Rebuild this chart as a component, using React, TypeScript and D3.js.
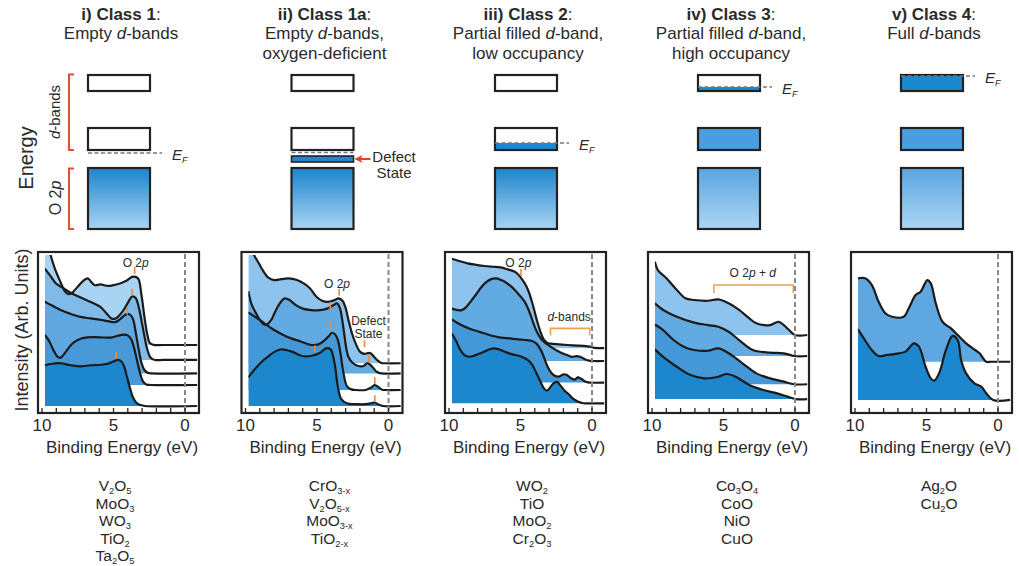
import React from "react";
import * as d3 from "d3";

type Pt = [number, number];

// ---------------- axis ticks ----------------
const xTickLabels = [10, 5, 0];
const xMinorTicks = [10, 9, 8, 7, 6, 5, 4, 3, 2, 1, 0];

// ---------------- texts ----------------
const classTitles = ["i) Class 1", "ii) Class 1a", "iii) Class 2", "iv) Class 3", "v) Class 4"];
const classSubtitles = [
  ["Empty |d|-bands"],
  ["Empty |d|-bands,", "oxygen-deficient"],
  ["Partial filled |d|-band,", "low occupancy"],
  ["Partial filled |d|-band,", "high occupancy"],
  ["Full |d|-bands"],
];
const materials = [
  ["V2O5", "MoO3", "WO3", "TiO2", "Ta2O5"],
  ["CrO3-x", "V2O5-x", "MoO3-x", "TiO2-x"],
  ["WO2", "TiO", "MoO2", "Cr2O3"],
  ["Co3O4", "CoO", "NiO", "CuO"],
  ["Ag2O", "Cu2O"],
];

// ---------------- spectra: [binding energy (eV), intensity (arb.)] ----------------
// Class 1
const c1s1: Pt[] = [[9.8,115],[9.4,100],[9.1,91],[8.75,83],[8.4,76],[8.15,74],[7.9,75],[7.5,79],[7.1,83],[6.8,84.5],[6.5,81.5],[6.3,80],[5.9,80.5],[5.4,79.5],[5.0,80],[4.6,81],[4.1,83],[3.7,85.5],[3.45,85.5],[3.25,84],[3.05,74],[2.85,60],[2.65,48],[2.45,41.5],[2.2,40.5],[1.5,40.4],[-0.85,40.4]];
const c1s2: Pt[] = [[9.8,91],[9.4,86],[9.0,81],[8.5,78],[8.0,75],[7.1,71],[6.5,68.5],[5.9,65.5],[5.5,61.5],[5.15,58],[4.85,58],[4.5,61],[4.2,65],[3.9,70],[3.7,72.5],[3.45,71.5],[3.25,66],[3.05,57],[2.85,47],[2.65,38],[2.4,32],[2.1,30.5],[1.5,30.5],[-0.85,30.5]];
const c1s3: Pt[] = [[9.8,69],[9.3,66.5],[8.7,63.5],[8.0,61],[7.3,59],[6.6,58],[5.9,57],[5.3,56],[4.9,55.5],[4.6,57],[4.3,59.5],[4.05,61],[3.85,60.5],[3.65,58],[3.45,49],[3.25,38],[3.05,29],[2.85,24],[2.6,22],[2.3,21.6],[-0.85,21.6]];
const c1s4: Pt[] = [[9.8,47],[9.5,43],[9.2,37],[8.9,32.5],[8.7,32],[8.4,35],[8.1,39],[7.8,42],[7.3,44.5],[6.8,45.5],[6.0,45.5],[5.2,45.3],[4.7,46.5],[4.3,47.3],[4.0,46.8],[3.75,44],[3.55,38],[3.35,30],[3.15,22],[2.95,16.5],[2.7,14.2],[2.4,13.9],[-0.85,13.9]];
const c1s5: Pt[] = [[9.8,27],[9.3,28],[8.7,28.3],[8.0,27],[7.3,26.3],[6.6,27],[5.9,27.3],[5.4,28],[5.0,29.5],[4.7,30.5],[4.45,29.5],[4.25,26],[4.05,19],[3.85,12],[3.65,6],[3.4,2.2],[3.1,0.6],[2.8,0],[-0.85,0]];
const c1Markers: Pt[] = [[3.52,86.8],[3.7,72.4],[4.05,60],[4.56,47],[4.81,30.5]];

// Class 1a
const c2s1: Pt[] = [[9.8,112],[9.4,100],[9.1,95],[8.8,90],[8.4,85],[8.0,83.4],[7.5,84],[7.0,84.5],[6.4,83.4],[5.9,81],[5.5,78],[5.0,72],[4.6,69.5],[4.2,69],[3.8,70],[3.5,71.3],[3.2,69.5],[3.0,65],[2.8,57],[2.55,48],[2.3,41.5],[2.0,36],[1.7,34.5],[1.45,35],[1.25,35],[1.0,32.5],[0.75,30],[0.5,28.5],[0.2,28.3],[-0.85,28.3]];
const c2s2: Pt[] = [[9.8,76],[9.6,68],[9.3,62],[9.0,57],[8.7,54],[8.5,54],[8.2,57],[7.95,62],[7.6,68],[7.25,71.3],[6.9,70],[6.5,67],[6.0,64.5],[5.4,63.5],[4.8,63.5],[4.3,64.5],[3.9,66.5],[3.6,68],[3.4,65],[3.25,58],[3.1,48],[2.95,38],[2.8,32.5],[2.5,28.5],[2.1,26.5],[1.75,26.5],[1.5,28.3],[1.3,27.5],[1.05,25],[0.8,22.5],[0.5,21.6],[-0.85,21.6]];
const c2s3: Pt[] = [[9.8,62],[9.4,59.5],[9.0,57],[8.5,53.5],[8.0,50.3],[7.1,45.9],[6.1,42.6],[5.4,40.4],[4.9,40.8],[4.45,43.7],[4.15,46.5],[3.95,48.5],[3.75,47.5],[3.55,44],[3.36,35],[3.15,22],[2.9,13],[2.6,11],[2.3,10.6],[1.6,10.6],[1.25,12],[0.96,13.9],[0.7,12.5],[0.45,10.8],[0.2,10.6],[-0.85,10.6]];
const c2s4: Pt[] = [[9.8,19],[9.4,23.8],[8.9,29],[8.44,32.6],[7.95,36],[7.48,37.5],[6.76,36],[6.04,33.1],[5.44,33.1],[4.84,34.9],[4.36,38.2],[4.05,37.5],[3.85,32],[3.7,24],[3.53,12],[3.3,4.5],[2.92,1.8],[2.2,1.2],[1.6,1.2],[1.2,1.8],[0.96,2.3],[0.7,1],[0.4,0],[-0.85,0]];
const c2MarkersO2p: Pt[] = [[3.45,72.4],[4.07,63.6],[4.07,50.3],[5.15,34.9]];
const c2MarkersDefect: Pt[] = [[1.68,38.2],[1.37,28.3],[0.96,13.9],[0.96,1.8]];

// Class 2
const c3s1: Pt[] = [[9.8,97.5],[9.3,96],[8.7,94.5],[8.1,93.5],[7.5,92.7],[6.9,92.2],[6.4,91.8],[5.9,90.5],[5.4,88.9],[5.1,86.5],[4.85,83.4],[4.6,79.5],[4.4,75],[4.2,69],[4.0,62],[3.8,55],[3.6,49],[3.4,44.5],[3.15,42],[2.9,41.3],[2.3,40.8],[1.7,40.4],[1.0,40],[0.4,39.6],[0.1,39.3],[-0.2,38.5],[-0.85,38.3]];
const c3s2: Pt[] = [[9.8,64.5],[9.4,63.5],[9.1,63.5],[8.8,65.5],[8.5,69],[8.1,74],[7.8,78],[7.4,82],[7.0,84.2],[6.7,84.5],[6.4,83.6],[6.1,82.3],[5.7,79.5],[5.4,76.8],[5.0,72.5],[4.7,69],[4.45,64],[4.25,59],[4.05,53.5],[3.85,49],[3.6,45],[3.35,42.5],[3.0,40],[2.6,37.5],[2.2,35.5],[1.8,34],[1.4,32.5],[1.1,33],[0.8,32.5],[0.5,31],[0.2,30],[-0.1,29.8],[-0.85,29.8]];
const c3s3: Pt[] = [[9.8,57.4],[9.4,55],[9.0,53],[8.5,51],[8.0,49.5],[7.5,48],[7.0,46.5],[6.5,45.5],[6.0,45],[5.5,44.5],[5.0,44],[4.6,43.7],[4.2,43],[3.9,41.5],[3.6,37.5],[3.35,32],[3.1,26],[2.85,22],[2.6,20],[2.3,19.5],[2.0,21],[1.75,20.5],[1.5,18.5],[1.2,17.5],[1.0,19],[0.75,18],[0.45,16],[0.15,15.5],[-0.85,15.5]];
const c3s4: Pt[] = [[9.8,48],[9.5,43],[9.2,37],[8.9,33.5],[8.6,32.6],[8.2,33.5],[7.8,35],[7.3,37],[6.9,38.2],[6.5,37.5],[6.0,35.5],[5.5,34],[5.0,33],[4.5,30.5],[4.2,27.5],[3.9,22],[3.6,16],[3.35,11.5],[3.15,10.2],[2.95,12],[2.7,15],[2.45,16],[2.2,13.5],[1.95,10.5],[1.65,8],[1.35,5],[1.0,3],[0.6,1.8],[0.2,1.8],[-0.85,1.8]];
const c3Markers: Pt[] = [[4.97,85.5]];

// Class 3
const c4s1: Pt[] = [[9.8,95.6],[9.59,90],[8.99,84.6],[8.26,76.8],[7.66,71.3],[7.05,70.2],[6.09,69.7],[5.36,70.6],[4.64,68],[3.91,63.6],[3.19,58],[2.7,54.8],[1.74,53.6],[1.4,55],[1.14,55.8],[0.78,53.6],[0.41,50.3],[0.0,47],[-0.85,47]];
const c4s2: Pt[] = [[9.8,68],[9.22,63.6],[8.26,59.1],[7.05,55.2],[6.09,53.6],[5.36,52.5],[4.64,49.2],[3.91,43.7],[2.95,37.1],[1.74,35.3],[0.78,34.9],[0.05,33.1],[-0.85,33.1]];
const c4s3: Pt[] = [[9.8,54],[9.22,50.3],[8.5,43.7],[7.78,39.3],[7.05,37.1],[6.09,36.6],[5.36,38.2],[4.64,34.9],[3.67,28.3],[2.7,21.6],[1.74,18.3],[0.78,16.1],[0.05,14.4],[-0.85,14.4]];
const c4s4: Pt[] = [[9.8,37.5],[9.22,32.6],[8.26,26],[7.3,20.5],[6.33,18.3],[5.36,19.4],[4.76,21.2],[4.15,19.4],[3.19,13.9],[2.22,10.6],[1.26,8.4],[0.53,6.2],[-0.07,4.6],[-0.85,4.6]];

// Class 4
const c5s1: Pt[] = [[9.8,84.6],[9.29,84.6],[8.82,80.1],[8.35,69],[7.88,61.4],[7.41,59.1],[6.59,59.1],[6.24,64.7],[5.76,73.5],[5.41,75.7],[4.94,83.4],[4.7,81.2],[4.35,68],[3.88,55.8],[3.29,51.4],[2.82,47],[2.23,41.5],[1.77,38.2],[1.29,34.9],[0.82,29.3],[0.5,29.3],[-0.85,29.3]];
const c5s2: Pt[] = [[9.8,51],[9.53,47],[8.83,37.1],[8.35,33.1],[7.77,33.8],[6.94,34.9],[6.47,36],[5.88,41.5],[5.53,39.3],[5.06,26],[4.7,18.3],[4.47,16.8],[4.12,21.6],[3.64,37.1],[3.18,46.4],[2.82,43.7],[2.58,30.5],[2.23,21.6],[1.65,15],[1.17,12.8],[0.82,8.4],[0.35,4],[-0.85,4]];

// annotations [eV, intensity]
const c1O2pLabel: Pt = [3.45, 92];
const c2O2pLabel: Pt = [3.6, 78];
const c2DefectLabel: Pt = [1.4, 53.6];
const c3O2pLabel: Pt = [5.15, 92];
const c3DbandBracket: Pt[] = [[2.9, 51.4], [0.16, 51.4]];
const c3DbandLabel: Pt = [1.6, 56.5];
const c4Bracket: Pt[] = [[5.67, 80.1], [0.12, 80.1]];
const c4Label: Pt = [2.95, 85.6];

const layerColors5 = ["#a9d3f2", "#7fbae8", "#60a8df", "#4799d7", "#1c87cc"];
const layerColors4 = ["#8dc3ed", "#62aae2", "#4598d8", "#1c87cc"];
const layerColors2 = ["#5fa7e0", "#1c87cc"];

// ---------------- layout ----------------
const FONT = "'Liberation Sans', Arial, Helvetica, sans-serif";
const INK = "#2a2a2a";
const panelLefts = [38, 241.5, 445, 648, 851];
const materialOffsets = [77, 88, 87, 89, 88];
const boxTop = 252;
const boxBottom = 413;
const panelW = 161;
const yScale = d3.scaleLinear().domain([0, 100]).range([406, 255]);
const curve = d3.curveCatmullRom.alpha(0.5);

const panels = [
  { series: [c1s1, c1s2, c1s3, c1s4, c1s5], colors: layerColors5, markers: c1Markers },
  { series: [c2s1, c2s2, c2s3, c2s4], colors: layerColors4, markers: [...c2MarkersO2p, ...c2MarkersDefect] },
  { series: [c3s1, c3s2, c3s3, c3s4], colors: layerColors4, markers: c3Markers },
  { series: [c4s1, c4s2, c4s3, c4s4], colors: layerColors4, markers: [] as Pt[] },
  { series: [c5s1, c5s2], colors: layerColors2, markers: [] as Pt[] },
];

const bandConfig = [
  { upper: "empty", lower: "empty", efY: 153, label: true, defect: false, o2p: "g1" },
  { upper: "empty", lower: "empty", efY: 152.5, label: false, defect: true, o2p: "g1" },
  { upper: "empty", lower: "partial", efY: 143, label: true, defect: false, o2p: "g1" },
  { upper: "partial", lower: "full", efY: 87, label: true, defect: false, o2p: "g2" },
  { upper: "fullDark", lower: "full", efY: 76, label: true, defect: false, o2p: "g2" },
];

function Rich({ x, y, s, size, anchor = "middle", fill = INK, weight = "normal" }: any) {
  const parts = s.split("|");
  return (
    <text x={x} y={y} fontSize={size} textAnchor={anchor} fill={fill} fontFamily={FONT} fontWeight={weight}>
      {parts.map((p: string, i: number) => (
        <tspan key={i} fontStyle={i % 2 === 1 ? "italic" : "normal"}>{p}</tspan>
      ))}
    </text>
  );
}

function Chem({ x, y, s, size }: any) {
  const segs: { t: string; sub: boolean }[] = [];
  for (const ch of s) {
    const sub = /[0-9x\-]/.test(ch);
    if (segs.length && segs[segs.length - 1].sub === sub) segs[segs.length - 1].t += ch;
    else segs.push({ t: ch, sub });
  }
  return (
    <text x={x} y={y} fontSize={size} textAnchor="middle" fill={INK} fontFamily={FONT}>
      {segs.map((g, i) => (
        <tspan key={i} dy={g.sub ? 3 : i > 0 ? -3 : 0} fontSize={g.sub ? size * 0.6 : size}>{g.t}</tspan>
      ))}
    </text>
  );
}

function EF({ x, y }: any) {
  return (
    <text x={x} y={y} fontSize={15} fill={INK} fontFamily={FONT} fontStyle="italic">
      <tspan>E</tspan>
      <tspan fontSize={9} dy={3}>F</tspan>
    </text>
  );
}

export default function App() {
  const bandW = 62;
  return (
    <svg width={1019} height={566} style={{ position: "absolute", left: 0, top: 0, background: "#fff" }}>
      <defs>
        <linearGradient id="g1" x1="0" y1="0" x2="0" y2="1">
          <stop offset="0" stopColor="#1c85ca" />
          <stop offset="1" stopColor="#a9d4f3" />
        </linearGradient>
        <linearGradient id="g2" x1="0" y1="0" x2="0" y2="1">
          <stop offset="0" stopColor="#5aa5e0" />
          <stop offset="1" stopColor="#acd6f4" />
        </linearGradient>
      </defs>

      {/* left labels of band diagrams */}
      <text transform="translate(33,158) rotate(-90)" fontSize={20} textAnchor="middle" fill={INK} fontFamily={FONT}>Energy</text>
      <g transform="translate(60,112) rotate(-90)">
        <Rich x={0} y={0} s="|d|-bands" size={15} />
      </g>
      <g transform="translate(61,198) rotate(-90)">
        <Rich x={0} y={0} s="O 2|p|" size={16} />
      </g>
      <path d="M74,74.5 H69 V150 H74" fill="none" stroke="#e2532d" strokeWidth={2} />
      <path d="M74,168.5 H69 V229 H74" fill="none" stroke="#e2532d" strokeWidth={2} />

      {/* band diagrams and titles */}
      {bandConfig.map((b, i) => {
        const L = panelLefts[i];
        const cx = L + 81;
        const rx = cx - bandW / 2;
        const tx = L + 83;
        return (
          <g key={"band" + i}>
            <text x={tx} y={20} fontSize={17} textAnchor="middle" fill={INK} fontFamily={FONT}>
              <tspan fontWeight="bold">{classTitles[i]}</tspan>
              <tspan>:</tspan>
            </text>
            {classSubtitles[i].map((line, k) => (
              <Rich key={k} x={tx} y={39 + k * 19.5} s={line} size={17} />
            ))}
            {/* upper d band */}
            <rect x={rx} y={75} width={bandW} height={16} fill={b.upper === "fullDark" ? "#1a89d2" : "#fff"} />
            {b.upper === "partial" && <rect x={rx} y={b.efY} width={bandW} height={91 - b.efY} fill="#1a89d2" />}
            <rect x={rx} y={75} width={bandW} height={16} fill="none" stroke="#222" strokeWidth={2.2} />
            {/* lower d band */}
            <rect x={rx} y={128} width={bandW} height={22} fill={b.lower === "full" ? "#4a9de0" : "#fff"} />
            {b.lower === "partial" && <rect x={rx} y={b.efY} width={bandW} height={150 - b.efY} fill="#1a89d2" />}
            <rect x={rx} y={128} width={bandW} height={22} fill="none" stroke="#222" strokeWidth={2.2} />
            {/* O 2p band */}
            <rect x={rx} y={168} width={bandW} height={61} fill={`url(#${b.o2p})`} stroke="#222" strokeWidth={2.2} />
            {b.defect && (
              <g>
                <rect x={rx} y={156} width={bandW} height={6} fill="#1a89d2" stroke="#222" strokeWidth={1.6} />
                <line x1={rx + bandW + 4} y1={159} x2={rx + bandW + 17} y2={159} stroke="#d9442b" strokeWidth={2} />
                <path d={`M${rx + bandW + 1},159 L${rx + bandW + 9},155 L${rx + bandW + 7},159 L${rx + bandW + 9},163 Z`} fill="#d9442b" />
                <text x={394} y={162} fontSize={15} textAnchor="middle" fill={INK} fontFamily={FONT}>Defect</text>
                <text x={394} y={178} fontSize={15} textAnchor="middle" fill={INK} fontFamily={FONT}>State</text>
              </g>
            )}
            <line x1={rx} y1={b.efY} x2={b.label ? rx + bandW + 12 : rx + bandW} y2={b.efY} stroke="#777" strokeWidth={1.6} strokeDasharray="4 2.5" />
            {b.label && <EF x={rx + bandW + 22} y={b.efY + 7} />}
          </g>
        );
      })}

      {/* y label */}
      <text transform="translate(28,330) rotate(-90)" fontSize={18} textAnchor="middle" fill={INK} fontFamily={FONT}>Intensity (Arb. Units)</text>

      {/* spectra panels */}
      {panels.map((p, i) => {
        const L = panelLefts[i];
        const x = d3.scaleLinear().domain([10, 0]).range([L + 4, L + 147]);
        const clipId = "clip" + i;
        const lineGen = d3.line<Pt>().x((d) => x(d[0])).y((d) => yScale(d[1])).curve(curve);
        return (
          <g key={"panel" + i}>
            <defs>
              <clipPath id={clipId}>
                <rect x={x(9.8)} y={yScale(100)} width={L + panelW - 1 - x(9.8)} height={boxBottom - yScale(100)} />
              </clipPath>
            </defs>
            <g clipPath={`url(#${clipId})`}>
              {p.series.map((s, j) => {
                const base = s[s.length - 1][1];
                const area = d3.area<Pt>().x((d) => x(d[0])).y0(yScale(base)).y1((d) => yScale(d[1])).curve(curve);
                return <path key={"a" + j} d={area(s) || ""} fill={p.colors[j]} />;
              })}
              {p.series.map((s, j) => (
                <path key={"l" + j} d={lineGen(s) || ""} fill="none" stroke="#1b1b1b" strokeWidth={2.2} strokeLinejoin="round" />
              ))}
            </g>
            {/* zero line */}
            <line x1={x(0)} x2={x(0)} y1={boxTop + 2} y2={boxBottom - 1} stroke="#888" strokeWidth={2} strokeDasharray="5 3" />
            {/* markers */}
            {p.markers.map((m, k) => (
              <line key={"m" + k} x1={x(m[0])} x2={x(m[0])} y1={yScale(m[1]) - 1} y2={yScale(m[1]) - 8} stroke="#ef8a3c" strokeWidth={1.6} />
            ))}
            {/* box */}
            <rect x={L} y={boxTop} width={panelW} height={boxBottom - boxTop} fill="none" stroke="#222" strokeWidth={2.2} />
            {xMinorTicks.map((t) => (
              <line key={"t" + t} x1={x(t)} x2={x(t)} y1={boxBottom} y2={boxBottom - 5} stroke="#222" strokeWidth={1.3} />
            ))}
            {xTickLabels.map((t) => (
              <text key={"tl" + t} x={x(t)} y={431} fontSize={17} textAnchor="middle" fill={INK} fontFamily={FONT}>{t}</text>
            ))}
            <text x={L + 84} y={453} fontSize={17} textAnchor="middle" fill={INK} fontFamily={FONT}>Binding Energy (eV)</text>
            {materials[i].map((m, k) => (
              <Chem key={"mat" + k} x={L + materialOffsets[i]} y={491 + k * 17.5} s={m} size={15.5} />
            ))}
            {i === 0 && <Rich x={x(c1O2pLabel[0])} y={yScale(c1O2pLabel[1])} s="O 2|p|" size={12} />}
            {i === 1 && (
              <g>
                <Rich x={x(c2O2pLabel[0])} y={yScale(c2O2pLabel[1])} s="O 2|p|" size={12} />
                <Rich x={x(c2DefectLabel[0])} y={yScale(c2DefectLabel[1])} s="Defect" size={12} />
                <Rich x={x(c2DefectLabel[0])} y={yScale(c2DefectLabel[1]) + 13} s="State" size={12} />
              </g>
            )}
            {i === 2 && (
              <g>
                <Rich x={x(c3O2pLabel[0])} y={yScale(c3O2pLabel[1])} s="O 2|p|" size={12} />
                <path d={`M${x(c3DbandBracket[0][0])},${yScale(c3DbandBracket[0][1]) + 7} V${yScale(c3DbandBracket[0][1])} H${x(c3DbandBracket[1][0])} V${yScale(c3DbandBracket[1][1]) + 7}`} fill="none" stroke="#f0a050" strokeWidth={1.6} />
                <Rich x={x(c3DbandLabel[0])} y={yScale(c3DbandLabel[1])} s="|d|-bands" size={12} />
              </g>
            )}
            {i === 3 && (
              <g>
                <path d={`M${x(c4Bracket[0][0])},${yScale(c4Bracket[0][1]) + 8} V${yScale(c4Bracket[0][1])} H${x(c4Bracket[1][0])} V${yScale(c4Bracket[1][1]) + 8}`} fill="none" stroke="#f0a050" strokeWidth={1.6} />
                <Rich x={x(c4Label[0])} y={yScale(c4Label[1])} s="O 2|p| + |d|" size={12} />
              </g>
            )}
          </g>
        );
      })}
    </svg>
  );
}
